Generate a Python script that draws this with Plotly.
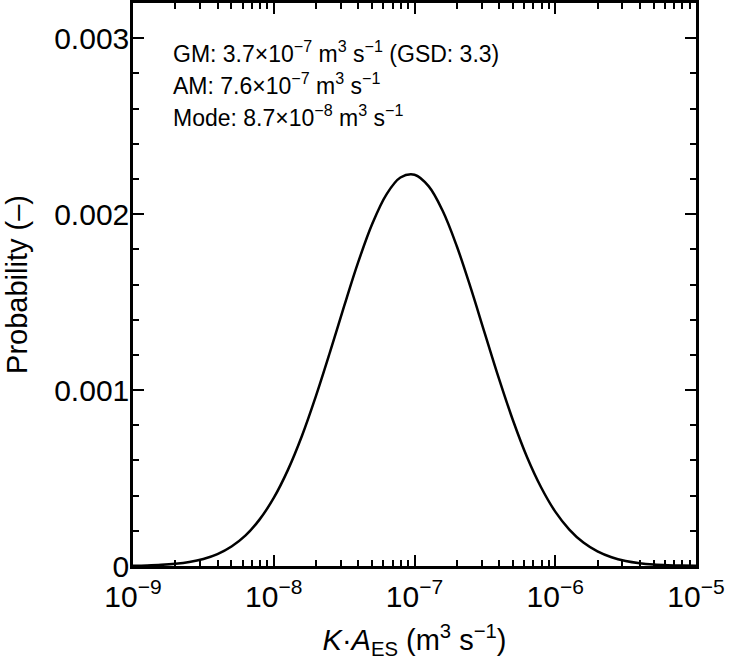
import plotly.graph_objects as go

# Curve: log10(K*A_ES) and probability
log_x = [-9.0, -8.9, -8.8, -8.7, -8.6, -8.5, -8.4, -8.3, -8.2, -8.1,
         -8.0, -7.9, -7.8, -7.7, -7.6, -7.5, -7.4, -7.3, -7.2, -7.1,
         -7.0, -6.9, -6.8, -6.7, -6.6, -6.5, -6.4, -6.3, -6.2, -6.1,
         -6.0, -5.9, -5.8, -5.7, -5.6, -5.5, -5.4, -5.3, -5.2, -5.1, -5.0]
prob = [0.0000016, 0.0000033, 0.0000065, 0.0000124, 0.0000227, 0.0000400,
        0.0000678, 0.000111, 0.000174, 0.000265, 0.000387, 0.000545,
        0.000739, 0.000967, 0.001217, 0.001477, 0.001727, 0.001945,
        0.002111, 0.002208, 0.002224, 0.002159, 0.002019, 0.001819,
        0.001579, 0.001321, 0.001065, 0.000827, 0.000618, 0.000446,
        0.000309, 0.000207, 0.000133, 0.0000830, 0.0000496, 0.0000286,
        0.0000159, 0.0000085, 0.0000044, 0.0000022, 0.0000010]

x_vals = [10 ** v for v in log_x]

x_tickvals = [1e-9, 1e-8, 1e-7, 1e-6, 1e-5]
x_ticktext = ["10<sup>−9</sup>", "10<sup>−8</sup>", "10<sup>−7</sup>",
              "10<sup>−6</sup>", "10<sup>−5</sup>"]
y_tickvals = [0, 0.001, 0.002, 0.003]
y_ticktext = ["0", "0.001", "0.002", "0.003"]

stat_lines = [
    "GM: 3.7×10<sup>−7</sup> m<sup>3</sup> s<sup>−1</sup> (GSD: 3.3)",
    "AM: 7.6×10<sup>−7</sup> m<sup>3</sup> s<sup>−1</sup>",
    "Mode: 8.7×10<sup>−8</sup> m<sup>3</sup> s<sup>−1</sup>",
]

FONT = "Liberation Sans, Arial, sans-serif"

fig = go.Figure()
fig.add_trace(go.Scatter(x=x_vals, y=prob, mode="lines",
                         line=dict(color="black", width=2.5, shape="spline"),
                         showlegend=False, hoverinfo="skip"))

ypos = [0.913, 0.857, 0.800]
for txt, yp in zip(stat_lines, ypos):
    fig.add_annotation(text=txt, xref="paper", yref="paper", x=0.068, y=yp,
                       xanchor="left", yanchor="middle", showarrow=False,
                       font=dict(family=FONT, size=23, color="black"))

axis_common = dict(showgrid=False, zeroline=False, showline=True,
                   linecolor="black", linewidth=2.5, mirror="ticks",
                   ticks="inside", tickcolor="black", tickwidth=2,
                   ticklen=11, automargin=False,
                   tickfont=dict(family=FONT, size=30, color="black"))

fig.update_xaxes(type="log", range=[-9, -5], tickvals=x_tickvals,
                 ticktext=x_ticktext, ticklabelstandoff=2,
                 minor=dict(ticks="inside", ticklen=6, tickwidth=2,
                            tickcolor="black", dtick="D1", showgrid=False),
                 title=dict(text="<i>K</i>·<i>A</i><sub>ES</sub> (m<sup>3</sup> s<sup>−1</sup>)",
                            font=dict(family=FONT, size=29, color="black"),
                            standoff=19),
                 **axis_common)
fig.update_yaxes(range=[0, 0.0032], tickvals=y_tickvals, ticktext=y_ticktext,
                 ticklabelstandoff=-5,
                 minor=dict(ticks="inside", ticklen=6, tickwidth=2,
                            tickcolor="black", dtick=0.0002, showgrid=False),
                 title=dict(text="Probability (–)",
                            font=dict(family=FONT, size=29, color="black"),
                            standoff=19),
                 **axis_common)

fig.update_layout(width=730, height=660,
                  margin=dict(l=133, r=34, t=3, b=94, autoexpand=False),
                  paper_bgcolor="white", plot_bgcolor="white",
                  font=dict(family=FONT, color="black"))

fig.write_html("out.html", config={"displayModeBar": False},
               post_script="document.body.style.margin='0';")
